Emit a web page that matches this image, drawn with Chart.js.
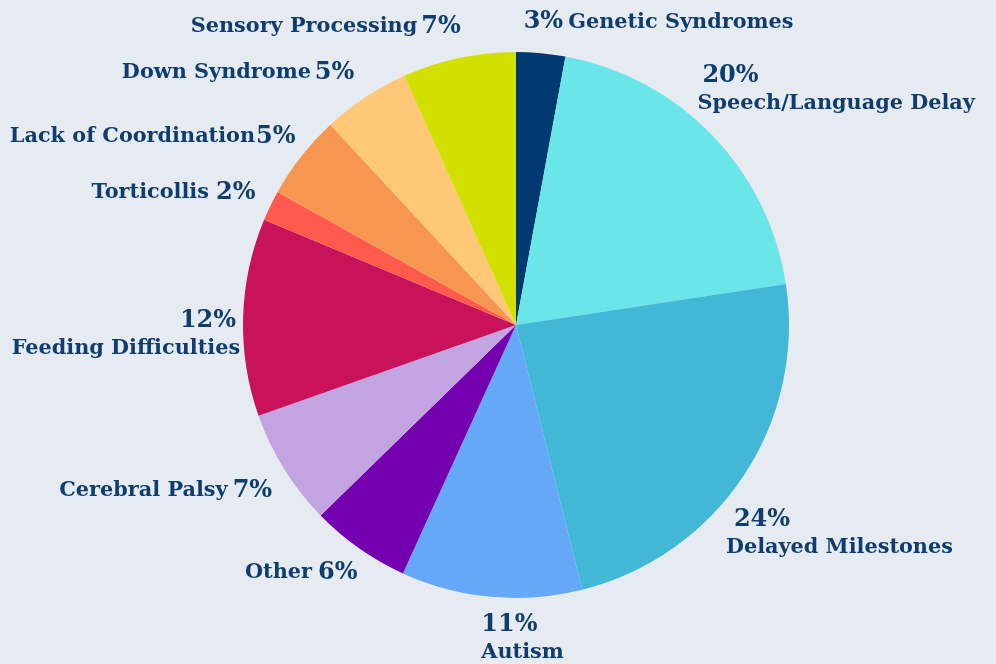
<!DOCTYPE html>
<html>
<head>
<meta charset="utf-8">
<script src="https://cdn.jsdelivr.net/npm/chart.js@4.4.1/dist/chart.umd.min.js"></script>
<style>
  html, body { margin: 0; padding: 0; background: #e6ebf2; }
  #wrap { width: 996px; height: 664px; position: relative; }
</style>
</head>
<body>
<div id="wrap"><canvas id="c" width="996" height="664"></canvas></div>
<script>
// ---- data ----
const categories = ["Genetic Syndromes", "Speech/Language Delay", "Delayed Milestones", "Autism", "Other",
  "Cerebral Palsy", "Feeding Difficulties", "Torticollis", "Lack of Coordination", "Down Syndrome", "Sensory Processing"];
const values = [2.9, 19.7, 23.5, 10.7, 5.9, 6.9, 11.7, 1.8, 5.0, 5.2, 6.7];
const percentLabels = ["3%", "20%", "24%", "11%", "6%", "7%", "12%", "2%", "5%", "5%", "7%"];
const colors = ["#003a70", "#6ae5e8", "#42b8d6", "#66a8f8", "#7400b0", "#c2a5e0",
  "#c8135a", "#ff5a4c", "#f79650", "#ffc877", "#d2e000"];

// ---- label layout (style config, offsets relative to arc-derived anchor) ----
// mode: 'pctFirst' inline (pct then name), 'nameFirst' inline (name then pct), 'stack' (pct above name)
const labelLayout = [
  { mode: "pctFirst", align: "left", dx: -19, dy: -11, gap: 5 },
  { mode: "stack", align: "left", dx: -29, dy: -45, pdx: 5 },
  { mode: "stack", align: "left", dx: -34, dy: 32, pdx: 8 },
  { mode: "stack", align: "left", dx: -8, dy: 8, pdx: 0 },
  { mode: "nameFirst", align: "right", dx: 10, dy: 8, gap: 6 },
  { mode: "nameFirst", align: "right", dx: 5, dy: 11, gap: 5 },
  { mode: "stack", align: "right", dx: 17, dy: 4, pdx: -4 },
  { mode: "nameFirst", align: "right", dx: 3, dy: -4, gap: 7 },
  { mode: "nameFirst", align: "right", dx: 10, dy: -7, gap: 1 },
  { mode: "nameFirst", align: "right", dx: 0, dy: -8, gap: 4 },
  { mode: "nameFirst", align: "right", dx: 6, dy: -12, gap: 4 }
];

const TEXT_COLOR = "#0f3d6e";
const NAME_FONT = "bold 20.8px 'DejaVu Serif', serif";
const PCT_FONT = "bold 24px 'DejaVu Serif', serif";
const LINE_GAP = 28;

const labelPlugin = {
  id: "outerLabels",
  afterDraw(chart) {
    const ctx = chart.ctx;
    const meta = chart.getDatasetMeta(0);
    ctx.save();
    ctx.fillStyle = TEXT_COLOR;
    ctx.textBaseline = "middle";
    meta.data.forEach((arc, i) => {
      const p = arc.getProps(["x", "y", "startAngle", "endAngle", "outerRadius"], true);
      const mid = (p.startAngle + p.endAngle) / 2;
      const r = p.outerRadius + 20;
      const ax = p.x + Math.cos(mid) * r;
      const ay = p.y + Math.sin(mid) * r;
      const L = labelLayout[i];
      const x = ax + L.dx, y = ay + L.dy;
      const name = categories[i], pct = percentLabels[i];
      if (L.mode === "stack") {
        ctx.textAlign = L.align;
        ctx.font = PCT_FONT;
        ctx.fillText(pct, x + (L.pdx || 0), y);
        ctx.font = NAME_FONT;
        ctx.fillText(name, x, y + LINE_GAP);
      } else if (L.mode === "nameFirst") {
        ctx.font = PCT_FONT;
        const pw = ctx.measureText(pct).width;
        ctx.textAlign = "right";
        ctx.fillText(pct, x, y);
        ctx.font = NAME_FONT;
        ctx.fillText(name, x - pw - L.gap, y);
      } else {
        ctx.font = PCT_FONT;
        const pw = ctx.measureText(pct).width;
        ctx.textAlign = "left";
        ctx.fillText(pct, x, y);
        ctx.font = NAME_FONT;
        ctx.fillText(name, x + pw + L.gap, y);
      }
    });
    ctx.restore();
  }
};

new Chart(document.getElementById("c"), {
  type: "pie",
  data: {
    labels: categories,
    datasets: [{
      data: values,
      backgroundColor: colors,
      borderWidth: 0,
      hoverOffset: 0
    }]
  },
  options: {
    responsive: false,
    animation: false,
    layout: { padding: { top: 52, bottom: 66, left: 36, right: 0 } },
    plugins: { legend: { display: false }, tooltip: { enabled: false } }
  },
  plugins: [labelPlugin]
});
</script>
</body>
</html>
